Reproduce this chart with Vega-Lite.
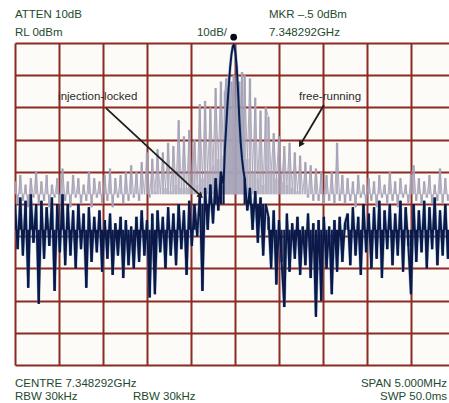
{
  "$schema": "https://vega.github.io/schema/vega-lite/v6.json",
  "width": 434,
  "height": 322,
  "autosize": {"type": "none"},
  "padding": {"left": 15, "top": 43, "right": 0, "bottom": 38},
  "background": "#ffffff",
  "config": {
    "view": {"fill": "#fdfbf7", "stroke": null},
    "text": {"font": "Liberation Sans", "fontSize": 11.5}
  },
  "datasets": {
    "trace": [
      {"mhz": -2.5, "locked": -50, "free": -43},
      {"mhz": -2.47, "locked": -64, "free": -50},
      {"mhz": -2.44, "locked": -48, "free": -41},
      {"mhz": -2.41, "locked": -66, "free": -49},
      {"mhz": -2.38, "locked": -49, "free": -44},
      {"mhz": -2.35, "locked": -76, "free": -51},
      {"mhz": -2.32, "locked": -47, "free": -42},
      {"mhz": -2.29, "locked": -62, "free": -48},
      {"mhz": -2.26, "locked": -50, "free": -40},
      {"mhz": -2.23, "locked": -81, "free": -50},
      {"mhz": -2.2, "locked": -49, "free": -43},
      {"mhz": -2.17, "locked": -67, "free": -49},
      {"mhz": -2.14, "locked": -51, "free": -41},
      {"mhz": -2.11, "locked": -63, "free": -51},
      {"mhz": -2.08, "locked": -48, "free": -44},
      {"mhz": -2.05, "locked": -77, "free": -48},
      {"mhz": -2.02, "locked": -50, "free": -42},
      {"mhz": -1.99, "locked": -65, "free": -50},
      {"mhz": -1.96, "locked": -47, "free": -39},
      {"mhz": -1.93, "locked": -69, "free": -49},
      {"mhz": -1.9, "locked": -50, "free": -43},
      {"mhz": -1.87, "locked": -66, "free": -51},
      {"mhz": -1.84, "locked": -52, "free": -41},
      {"mhz": -1.81, "locked": -70, "free": -48},
      {"mhz": -1.78, "locked": -50, "free": -42},
      {"mhz": -1.75, "locked": -64, "free": -50},
      {"mhz": -1.72, "locked": -53, "free": -44},
      {"mhz": -1.69, "locked": -76, "free": -49},
      {"mhz": -1.66, "locked": -51, "free": -40},
      {"mhz": -1.63, "locked": -68, "free": -51},
      {"mhz": -1.6, "locked": -54, "free": -42},
      {"mhz": -1.57, "locked": -65, "free": -48},
      {"mhz": -1.54, "locked": -52, "free": -43},
      {"mhz": -1.51, "locked": -71, "free": -50},
      {"mhz": -1.48, "locked": -55, "free": -41},
      {"mhz": -1.45, "locked": -67, "free": -49},
      {"mhz": -1.42, "locked": -53, "free": -39},
      {"mhz": -1.39, "locked": -72, "free": -51},
      {"mhz": -1.36, "locked": -56, "free": -42},
      {"mhz": -1.33, "locked": -66, "free": -48},
      {"mhz": -1.3, "locked": -54, "free": -41},
      {"mhz": -1.27, "locked": -73, "free": -50},
      {"mhz": -1.24, "locked": -55, "free": -40},
      {"mhz": -1.21, "locked": -69, "free": -49},
      {"mhz": -1.18, "locked": -57, "free": -38},
      {"mhz": -1.15, "locked": -70, "free": -48},
      {"mhz": -1.12, "locked": -54, "free": -40},
      {"mhz": -1.09, "locked": -68, "free": -49},
      {"mhz": -1.06, "locked": -52, "free": -37},
      {"mhz": -1.03, "locked": -66, "free": -47},
      {"mhz": -1.0, "locked": -55, "free": -34},
      {"mhz": -0.97, "locked": -79, "free": -48},
      {"mhz": -0.94, "locked": -53, "free": -36},
      {"mhz": -0.91, "locked": -78, "free": -46},
      {"mhz": -0.88, "locked": -52, "free": -33},
      {"mhz": -0.85, "locked": -65, "free": -47},
      {"mhz": -0.82, "locked": -54, "free": -34},
      {"mhz": -0.79, "locked": -70, "free": -45},
      {"mhz": -0.76, "locked": -51, "free": -31},
      {"mhz": -0.73, "locked": -66, "free": -46},
      {"mhz": -0.7, "locked": -53, "free": -32},
      {"mhz": -0.67, "locked": -69, "free": -44},
      {"mhz": -0.64, "locked": -50, "free": -24},
      {"mhz": -0.61, "locked": -64, "free": -45},
      {"mhz": -0.58, "locked": -52, "free": -29},
      {"mhz": -0.55, "locked": -72, "free": -45},
      {"mhz": -0.52, "locked": -49, "free": -27},
      {"mhz": -0.49, "locked": -63, "free": -43},
      {"mhz": -0.46, "locked": -50, "free": -30},
      {"mhz": -0.43, "locked": -60, "free": -44},
      {"mhz": -0.4, "locked": -47, "free": -19},
      {"mhz": -0.37, "locked": -77, "free": -42},
      {"mhz": -0.34, "locked": -45, "free": -18},
      {"mhz": -0.31, "locked": -58, "free": -40},
      {"mhz": -0.28, "locked": -44, "free": -20},
      {"mhz": -0.25, "locked": -56, "free": -38},
      {"mhz": -0.22, "locked": -42, "free": -14},
      {"mhz": -0.19, "locked": -52, "free": -36},
      {"mhz": -0.16, "locked": -40, "free": -12},
      {"mhz": -0.13, "locked": -44, "free": -35},
      {"mhz": -0.115, "locked": -33, "free": -15},
      {"mhz": -0.1, "locked": -26, "free": -11},
      {"mhz": -0.085, "locked": -19, "free": -25},
      {"mhz": -0.07, "locked": -13, "free": -10},
      {"mhz": -0.055, "locked": -7.5, "free": -22},
      {"mhz": -0.04, "locked": -3.5, "free": -12},
      {"mhz": -0.025, "locked": -1, "free": -20},
      {"mhz": -0.015, "locked": -0.5, "free": -10},
      {"mhz": -0.01, "locked": -0.8, "free": -11},
      {"mhz": 0.005, "locked": -3, "free": -24},
      {"mhz": 0.02, "locked": -7.5, "free": -10},
      {"mhz": 0.035, "locked": -15, "free": -22},
      {"mhz": 0.05, "locked": -24, "free": -12},
      {"mhz": 0.065, "locked": -31, "free": -26},
      {"mhz": 0.08, "locked": -36, "free": -9},
      {"mhz": 0.095, "locked": -39.5, "free": -28},
      {"mhz": 0.11, "locked": -42, "free": -10},
      {"mhz": 0.14, "locked": -52, "free": -36},
      {"mhz": 0.17, "locked": -45, "free": -11},
      {"mhz": 0.2, "locked": -58, "free": -40},
      {"mhz": 0.23, "locked": -46, "free": -17},
      {"mhz": 0.26, "locked": -62, "free": -42},
      {"mhz": 0.29, "locked": -48, "free": -21},
      {"mhz": 0.32, "locked": -66, "free": -44},
      {"mhz": 0.35, "locked": -50, "free": -20},
      {"mhz": 0.38, "locked": -54, "free": -23},
      {"mhz": 0.41, "locked": -70, "free": -40},
      {"mhz": 0.44, "locked": -52, "free": -28},
      {"mhz": 0.47, "locked": -75, "free": -42},
      {"mhz": 0.5, "locked": -55, "free": -29},
      {"mhz": 0.53, "locked": -68, "free": -43},
      {"mhz": 0.56, "locked": -82, "free": -32},
      {"mhz": 0.59, "locked": -53, "free": -44},
      {"mhz": 0.62, "locked": -71, "free": -31},
      {"mhz": 0.65, "locked": -56, "free": -45},
      {"mhz": 0.68, "locked": -67, "free": -34},
      {"mhz": 0.71, "locked": -54, "free": -46},
      {"mhz": 0.74, "locked": -72, "free": -35},
      {"mhz": 0.77, "locked": -57, "free": -47},
      {"mhz": 0.8, "locked": -69, "free": -37},
      {"mhz": 0.83, "locked": -53, "free": -48},
      {"mhz": 0.86, "locked": -73, "free": -38},
      {"mhz": 0.89, "locked": -56, "free": -49},
      {"mhz": 0.92, "locked": -85, "free": -39},
      {"mhz": 0.95, "locked": -55, "free": -49},
      {"mhz": 0.98, "locked": -80, "free": -40},
      {"mhz": 1.01, "locked": -54, "free": -50},
      {"mhz": 1.04, "locked": -70, "free": -41},
      {"mhz": 1.07, "locked": -57, "free": -49},
      {"mhz": 1.1, "locked": -78, "free": -40},
      {"mhz": 1.13, "locked": -55, "free": -50},
      {"mhz": 1.16, "locked": -71, "free": -31},
      {"mhz": 1.19, "locked": -54, "free": -49},
      {"mhz": 1.22, "locked": -68, "free": -41},
      {"mhz": 1.25, "locked": -56, "free": -50},
      {"mhz": 1.28, "locked": -53, "free": -42},
      {"mhz": 1.31, "locked": -69, "free": -49},
      {"mhz": 1.34, "locked": -51, "free": -43},
      {"mhz": 1.37, "locked": -66, "free": -51},
      {"mhz": 1.4, "locked": -54, "free": -41},
      {"mhz": 1.43, "locked": -72, "free": -48},
      {"mhz": 1.46, "locked": -50, "free": -44},
      {"mhz": 1.49, "locked": -65, "free": -50},
      {"mhz": 1.52, "locked": -53, "free": -42},
      {"mhz": 1.55, "locked": -70, "free": -49},
      {"mhz": 1.58, "locked": -51, "free": -43},
      {"mhz": 1.61, "locked": -67, "free": -51},
      {"mhz": 1.64, "locked": -49, "free": -41},
      {"mhz": 1.67, "locked": -73, "free": -48},
      {"mhz": 1.7, "locked": -52, "free": -44},
      {"mhz": 1.73, "locked": -64, "free": -50},
      {"mhz": 1.76, "locked": -50, "free": -40},
      {"mhz": 1.79, "locked": -69, "free": -49},
      {"mhz": 1.82, "locked": -53, "free": -43},
      {"mhz": 1.85, "locked": -66, "free": -51},
      {"mhz": 1.88, "locked": -49, "free": -42},
      {"mhz": 1.91, "locked": -71, "free": -48},
      {"mhz": 1.94, "locked": -51, "free": -44},
      {"mhz": 1.97, "locked": -63, "free": -50},
      {"mhz": 2.0, "locked": -78, "free": -41},
      {"mhz": 2.03, "locked": -50, "free": -38},
      {"mhz": 2.06, "locked": -68, "free": -49},
      {"mhz": 2.09, "locked": -52, "free": -42},
      {"mhz": 2.12, "locked": -65, "free": -50},
      {"mhz": 2.15, "locked": -49, "free": -43},
      {"mhz": 2.18, "locked": -70, "free": -48},
      {"mhz": 2.21, "locked": -51, "free": -41},
      {"mhz": 2.24, "locked": -64, "free": -50},
      {"mhz": 2.27, "locked": -48, "free": -44},
      {"mhz": 2.3, "locked": -69, "free": -49},
      {"mhz": 2.33, "locked": -52, "free": -39},
      {"mhz": 2.36, "locked": -66, "free": -50},
      {"mhz": 2.39, "locked": -50, "free": -42},
      {"mhz": 2.42, "locked": -67, "free": -49}
    ],
    "infoLeft": [
      {"mhz": -2.5, "db": 7.76, "label": "ATTEN 10dB"},
      {"mhz": -2.5, "db": 2.17, "label": "RL 0dBm"},
      {"mhz": -0.432, "db": 2.17, "label": "10dB/"},
      {"mhz": 0.386, "db": 7.76, "label": "MKR –.5 0dBm"},
      {"mhz": 0.386, "db": 2.17, "label": "7.348292GHz"},
      {"mhz": -2.5, "db": -106.8, "label": "CENTRE 7.348292GHz"},
      {"mhz": -2.5, "db": -111.0, "label": "RBW 30kHz"},
      {"mhz": -1.159, "db": -111.0, "label": "RBW 30kHz"}
    ],
    "infoRight": [
      {"mhz": 2.409, "db": -106.8, "label": "SPAN 5.000MHz"},
      {"mhz": 2.409, "db": -111.0, "label": "SWP 50.0ms"}
    ],
    "notes": [
      {"mhz": -1.56, "db": -16.8, "label": "injection-locked"},
      {"mhz": 1.08, "db": -16.8, "label": "free-running"}
    ],
    "arrows": [
      {"mhz": -1.466, "db": -20.2, "mhz2": -0.389, "db2": -47.5},
      {"mhz": 1.011, "db": -19.25, "mhz2": 0.744, "db2": -31.5}
    ]
  },
  "encoding": {
    "x": {
      "field": "mhz",
      "type": "quantitative",
      "scale": {"domain": [-2.5, 2.432], "nice": false, "zero": false},
      "axis": {
        "values": [-2.5, -2, -1.5, -1, -0.5, 0, 0.5, 1, 1.5, 2],
        "grid": true, "gridColor": "#8c2b22", "gridWidth": 2,
        "domain": false, "ticks": false, "labels": false, "title": null
      }
    },
    "y": {
      "field": "db",
      "type": "quantitative",
      "scale": {"domain": [-100, 0], "nice": false, "zero": false},
      "axis": {
        "values": [-100, -90, -80, -70, -60, -50, -40, -30, -20, -10, 0],
        "grid": true, "gridColor": "#8c2b22", "gridWidth": 2,
        "domain": false, "ticks": false, "labels": false, "title": null
      }
    }
  },
  "layer": [
    {
      "data": {"name": "trace"},
      "mark": {"type": "rule", "color": "#a8a5ba", "strokeWidth": 2.5, "opacity": 0.85, "clip": true},
      "encoding": {"y": {"field": "free", "type": "quantitative"}, "y2": {"datum": -47}}
    },
    {
      "data": {"name": "trace"},
      "mark": {"type": "line", "color": "#a19eb4", "strokeWidth": 1, "opacity": 0.8, "clip": true},
      "encoding": {"y": {"field": "free", "type": "quantitative"}}
    },
    {
      "data": {"name": "trace"},
      "mark": {"type": "line", "color": "#4f8fbf", "strokeWidth": 3, "opacity": 0.55, "clip": true},
      "encoding": {"y": {"field": "locked", "type": "quantitative"}}
    },
    {
      "data": {"name": "trace"},
      "transform": [{"filter": "datum.mhz < -0.4 || datum.mhz > 0.35"}],
      "mark": {"type": "rule", "color": "#0c1848", "strokeWidth": 2.2, "clip": true},
      "encoding": {"y": {"field": "locked", "type": "quantitative"}, "y2": {"datum": -58}}
    },
    {
      "data": {"name": "trace"},
      "transform": [{"filter": "(datum.mhz >= -0.4 && datum.mhz <= -0.13) || (datum.mhz >= 0.11 && datum.mhz <= 0.35)"}],
      "mark": {"type": "rule", "color": "#0c1848", "strokeWidth": 2.2, "clip": true},
      "encoding": {"y": {"field": "locked", "type": "quantitative"}, "y2": {"datum": -50}}
    },
    {
      "data": {"name": "trace"},
      "mark": {"type": "line", "color": "#0c1848", "strokeWidth": 1.9, "clip": true},
      "encoding": {"y": {"field": "locked", "type": "quantitative"}}
    },
    {
      "data": {"values": [{"mhz": -0.015, "db": 1.8}]},
      "mark": {"type": "point", "filled": true, "color": "#0a0a14", "size": 45, "opacity": 1}
    },
    {
      "data": {"name": "arrows"},
      "mark": {"type": "rule", "color": "#1e1e1e", "strokeWidth": 1.8},
      "encoding": {
        "x2": {"field": "mhz2"},
        "y2": {"field": "db2"}
      }
    },
    {
      "data": {"values": [{"mhz": -0.389, "db": -47.5}]},
      "mark": {"type": "point", "shape": "triangle-up", "filled": true, "color": "#1e1e1e", "size": 45, "angle": 133, "opacity": 1}
    },
    {
      "data": {"values": [{"mhz": 0.744, "db": -31.5}]},
      "mark": {"type": "point", "shape": "triangle-up", "filled": true, "color": "#1e1e1e", "size": 45, "angle": 211, "opacity": 1}
    },
    {
      "data": {"name": "notes"},
      "mark": {"type": "text", "align": "center", "baseline": "middle", "color": "#2b2b2b"},
      "encoding": {"text": {"field": "label"}}
    },
    {
      "data": {"name": "infoLeft"},
      "mark": {"type": "text", "align": "left", "baseline": "alphabetic", "color": "#1e4a2e"},
      "encoding": {"text": {"field": "label"}}
    },
    {
      "data": {"name": "infoRight"},
      "mark": {"type": "text", "align": "right", "baseline": "alphabetic", "color": "#1e4a2e"},
      "encoding": {"text": {"field": "label"}}
    }
  ]
}
